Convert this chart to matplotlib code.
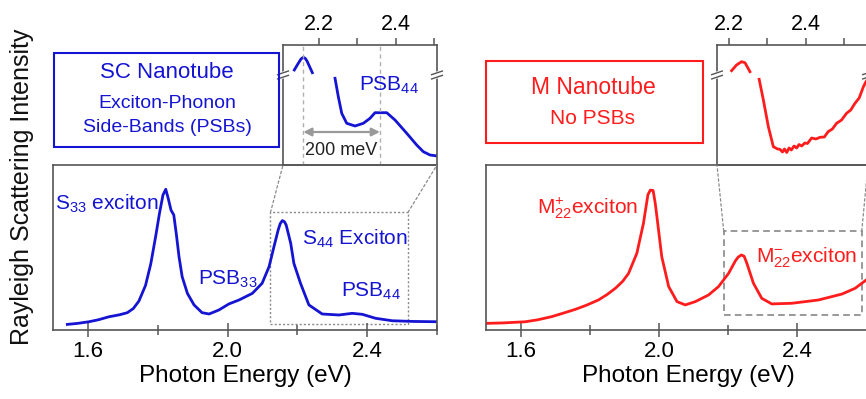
import matplotlib
matplotlib.use("Agg")
import matplotlib.pyplot as plt
from matplotlib.patches import Rectangle, ConnectionPatch
import numpy as np

plt.rcParams['font.family'] = ['Liberation Sans', 'DejaVu Sans']
plt.rcParams['mathtext.default'] = 'regular'

BLUE = '#1414d2'
RED = '#ff1c1c'
GRAY = '#555555'

# ---------------- data ----------------
# semiconducting (SC) nanotube spectrum, main panel (arbitrary intensity units)
sc_energy = [1.541, 1.57, 1.603, 1.63, 1.66, 1.69, 1.713, 1.73, 1.746, 1.765, 1.78, 1.794,
             1.805, 1.815, 1.823, 1.83, 1.838, 1.846, 1.853, 1.861, 1.87, 1.885, 1.904,
             1.927, 1.947, 1.975, 2.004, 2.033, 2.071, 2.099, 2.119, 2.133, 2.145, 2.151,
             2.157, 2.163, 2.168, 2.181, 2.19, 2.209, 2.233, 2.271, 2.319, 2.357, 2.386,
             2.424, 2.472, 2.53, 2.6]
sc_intensity = [0.034, 0.04, 0.05, 0.062, 0.08, 0.092, 0.105, 0.13, 0.175, 0.27, 0.4, 0.566,
                0.707, 0.818, 0.853, 0.798, 0.727, 0.697, 0.586, 0.444, 0.323, 0.222, 0.152,
                0.105, 0.097, 0.121, 0.158, 0.182, 0.222, 0.283, 0.384, 0.505, 0.606, 0.645,
                0.663, 0.656, 0.636, 0.525, 0.404, 0.283, 0.152, 0.097, 0.091, 0.101, 0.095,
                0.071, 0.056, 0.052, 0.05]

# SC inset (zoomed, broken y axis; arbitrary units)
sc_inset_top_energy = [2.1355, 2.1459, 2.153, 2.159, 2.1645, 2.1695, 2.1826]
sc_inset_top_intensity = [95, 101.7, 106, 107.7, 106.5, 103.3, 92.3]
sc_inset_energy = [2.2418, 2.2504, 2.2593, 2.2723, 2.294, 2.3157, 2.3332, 2.3462, 2.3768,
                   2.3984, 2.429, 2.455, 2.4723, 2.4898, 2.5089]
sc_inset_intensity = [86.7, 68.3, 51.7, 41.7, 39, 41.7, 46.7, 52.3, 52.3,
                      45, 31.7, 20, 13.3, 10, 9]
sc_s44_energy = 2.159
sc_psb44_energy = 2.359

# metallic (M) nanotube spectrum, main panel
m_energy = [1.498, 1.55, 1.614, 1.65, 1.69, 1.72, 1.758, 1.79, 1.825, 1.85, 1.874, 1.895,
            1.912, 1.936, 1.955, 1.962, 1.968, 1.975, 1.983, 1.989, 1.994, 2.008, 2.028,
            2.052, 2.076, 2.105, 2.143, 2.172, 2.201, 2.221, 2.229, 2.238, 2.246, 2.253,
            2.273, 2.297, 2.326, 2.384, 2.461, 2.529, 2.567, 2.6]
m_intensity = [0.04, 0.043, 0.05, 0.062, 0.081, 0.1, 0.125, 0.15, 0.182, 0.215, 0.253, 0.295,
               0.343, 0.465, 0.646, 0.74, 0.82, 0.848, 0.845, 0.77, 0.687, 0.444, 0.263,
               0.172, 0.152, 0.172, 0.212, 0.263, 0.343, 0.42, 0.442, 0.455, 0.447, 0.41,
               0.283, 0.192, 0.158, 0.162, 0.182, 0.218, 0.253, 0.305]

# M inset (zoomed, broken y axis)
m_inset_top_energy = [2.207, 2.220, 2.233, 2.242, 2.255]
m_inset_top_intensity = [94.3, 100, 103.3, 102.3, 93.3]
m_inset_energy = [2.279, 2.29, 2.303, 2.316, 2.327, 2.333, 2.34, 2.345, 2.351, 2.357, 2.363,
                  2.37, 2.377, 2.383, 2.39, 2.398, 2.405, 2.416, 2.427, 2.438, 2.449, 2.459,
                  2.47, 2.481, 2.494, 2.507, 2.518, 2.529, 2.54, 2.551, 2.56]
m_inset_intensity = [85.7, 65, 38.3, 18.3, 16, 15.7, 13, 16, 12.5, 17, 15, 19, 17, 20.5, 19,
                     22, 21.5, 27, 26, 27.7, 28, 33.3, 36, 41.7, 45, 51.7, 55, 61.7, 67, 78.3, 85]

xticks_main = [1.6, 2.0, 2.4]
xticks_main_minor = [1.8, 2.2, 2.6]
xticks_inset = [2.2, 2.4]
xticks_inset_minor = [2.3, 2.5]

# ---------------- layout ----------------
W, H = 866, 399
fig = plt.figure(figsize=(W / 100, H / 100), dpi=100)


def px_rect(x0, y0, x1, y1):
    return [x0 / W, 1 - y1 / H, (x1 - x0) / W, (y1 - y0) / H]


def fx(x):
    return x / W


def fy(y):
    return 1 - y / H


def style_main(ax, xmax):
    ax.set_xlim(1.5, xmax)
    ax.set_ylim(0, 1)
    ax.set_yticks([])
    ax.set_xticks(xticks_main)
    ax.set_xticks(xticks_main_minor, minor=True)
    ax.set_xticklabels([f'{v:.1f}' for v in xticks_main], fontsize=16)
    ax.tick_params(axis='x', which='major', direction='inout', length=10, width=1.1,
                   color=GRAY, pad=3)
    ax.tick_params(axis='x', which='minor', direction='inout', length=7, width=1.1, color=GRAY)
    for s in ax.spines.values():
        s.set_color(GRAY)
        s.set_linewidth(1.2)
    ax.set_xlabel('Photon Energy (eV)', fontsize=17.5, labelpad=2)


def style_inset(ax, xlim):
    ax.set_xlim(*xlim)
    ax.set_ylim(0, 120)
    ax.set_yticks([])
    ax.xaxis.tick_top()
    ax.set_xticks(xticks_inset)
    ax.set_xticks(xticks_inset_minor, minor=True)
    ax.set_xticklabels([f'{v:.1f}' for v in xticks_inset], fontsize=15.5)
    ax.tick_params(axis='x', which='both', direction='out', length=5, width=1.1,
                   color=GRAY, pad=2, top=True, bottom=False)
    for s in ax.spines.values():
        s.set_color(GRAY)
        s.set_linewidth(1.2)
    ax.patch.set_alpha(0)
    # break marks on the y spines
    for xa in (0, 1):
        xs = np.array([-0.045, 0.045]) * 120 / 154
        for dy in (-0.012, 0.012):
            ax.plot(xa + xs, [0.735 + dy, 0.765 + dy], transform=ax.transAxes,
                    color='white', lw=3, clip_on=False, zorder=5)
        for dy in (-0.018, 0.018):
            ax.plot(xa + xs, [0.735 + dy, 0.765 + dy], transform=ax.transAxes,
                    color=GRAY, lw=1.0, clip_on=False, zorder=6)


# main SC axes
ax1 = fig.add_axes(px_rect(53, 165, 437, 330))
ax1.plot(sc_energy, sc_intensity, color=BLUE, lw=2)
style_main(ax1, 2.6)
box1 = (2.123, 0.034, 2.517, 0.713)
ax1.add_patch(Rectangle((box1[0], box1[1]), box1[2] - box1[0], box1[3] - box1[1],
                        fill=False, ec='#8a8a8a', lw=1.0, ls=(0, (1.5, 1.5))))
tk = dict(color=BLUE, fontsize=15)
ax1.text(1.506, 0.765, r'S$_{33}$ exciton', ha='left', va='center', **tk)
ax1.text(1.915, 0.305, r'PSB$_{33}$', ha='left', va='center', **tk)
ax1.text(2.213, 0.555, r'S$_{44}$ Exciton', ha='left', va='center', **tk)
ax1.text(2.326, 0.235, r'PSB$_{44}$', ha='left', va='center', **tk)

# main M axes (extends a little past the right edge of the picture)
ax2 = fig.add_axes(px_rect(486, 165, 890, 330))
ax2.plot(m_energy, m_intensity, color=RED, lw=2)
style_main(ax2, 1.5 + 404 / 346)
box2 = (2.187, 0.09, 2.586, 0.6)
ax2.add_patch(Rectangle((box2[0], box2[1]), box2[2] - box2[0], box2[3] - box2[1],
                        fill=False, ec='#888888', lw=1.2, ls=(0, (4, 2.5))))
tk = dict(color=RED, fontsize=15)
ax2.text(1.647, 0.74, r'M$^{+}_{22}$exciton', ha='left', va='center', **tk)
ax2.text(2.28, 0.435, r'M$^{-}_{22}$exciton', ha='left', va='center', **tk)

# SC inset
ax3 = fig.add_axes(px_rect(283, 45, 437, 165))
style_inset(ax3, (2.106, 2.508))
ax3.plot(sc_inset_top_energy, sc_inset_top_intensity, color=BLUE, lw=2)
ax3.plot(sc_inset_energy, sc_inset_intensity, color=BLUE, lw=2)
for xv in (sc_s44_energy, sc_psb44_energy):
    ax3.axvline(xv, color='#b0b0b0', lw=1.0, ls=(0, (3, 2.5)))
ax3.annotate('', xy=(sc_s44_energy, 33), xytext=(sc_psb44_energy, 33),
             arrowprops=dict(arrowstyle='<|-|>', color='#999999', lw=1.6,
                             mutation_scale=12, shrinkA=0, shrinkB=0))
ax3.text(0.5 * (sc_s44_energy + sc_psb44_energy), 14, '200 meV', ha='center', va='center',
         fontsize=13, color='#222222')
ax3.text(2.304, 80, r'PSB$_{44}$', ha='left', va='center', color=BLUE, fontsize=15)

# M inset
ax4 = fig.add_axes(px_rect(717, 45, 868, 165))
style_inset(ax4, (2.169, 2.563))
ax4.plot(m_inset_top_energy, m_inset_top_intensity, color=RED, lw=2)
ax4.plot(m_inset_energy, m_inset_intensity, color=RED, lw=2)

# connector lines
for (axm, axi, box) in ((ax1, ax3, box1), (ax2, ax4, box2)):
    for xb, xa in ((box[0], 0), (box[2], 1)):
        cp = ConnectionPatch(xyA=(xb, box[3]), coordsA=axm.transData,
                             xyB=(xa, 0), coordsB=axi.transAxes,
                             color='#8a8a8a', lw=0.9, ls=(0, (2, 2)))
        fig.add_artist(cp)

# text boxes
fig.add_artist(Rectangle((fx(54), fy(147)), (279 - 54) / W, (147 - 53) / H,
                         transform=fig.transFigure, fill=False, ec=BLUE, lw=1.5))
fig.text(fx(167), fy(73), 'SC Nanotube', ha='center', va='center', color=BLUE, fontsize=16)
fig.text(fx(167), fy(103), 'Exciton-Phonon', ha='center', va='center', color=BLUE, fontsize=14)
fig.text(fx(167), fy(128), 'Side-Bands (PSBs)', ha='center', va='center', color=BLUE, fontsize=14)

fig.add_artist(Rectangle((fx(486), fy(143)), (703 - 486) / W, (143 - 61) / H,
                         transform=fig.transFigure, fill=False, ec=RED, lw=1.5))
fig.text(fx(593), fy(87), 'M Nanotube', ha='center', va='center', color=RED, fontsize=16.5)
fig.text(fx(593), fy(118), 'No PSBs', ha='center', va='center', color=RED, fontsize=15)

fig.text(fx(22), fy(187), 'Rayleigh Scattering Intensity', rotation=90, ha='center',
         va='center', fontsize=18, color='#111111')

fig.savefig('out.png', dpi=100)
